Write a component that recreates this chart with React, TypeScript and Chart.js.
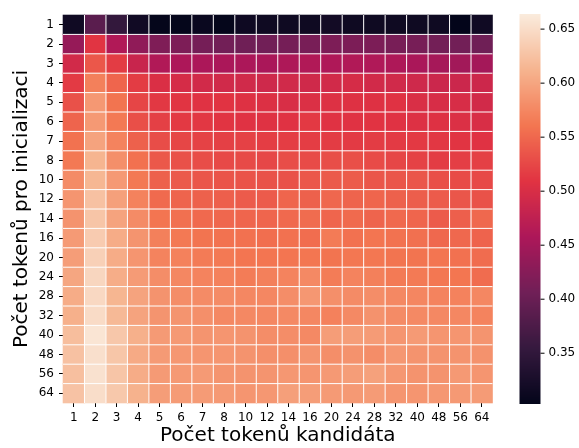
import React, { useEffect, useRef } from "react";
import { Chart, registerables } from "chart.js";
Chart.register(...registerables);

const colLabels = ["1","2","3","4","5","6","7","8","10","12","14","16","20","24","28","32","40","48","56","64"];
const rowLabels = ["1","2","3","4","5","6","7","8","10","12","14","16","20","24","28","32","40","48","56","64"];

const scores: number[][] = [
  [0.316, 0.387, 0.352, 0.317, 0.305, 0.305, 0.310, 0.305, 0.314, 0.315, 0.315, 0.315, 0.319, 0.315, 0.315, 0.315, 0.315, 0.315, 0.303, 0.316],
  [0.438, 0.510, 0.462, 0.433, 0.419, 0.417, 0.410, 0.408, 0.405, 0.407, 0.410, 0.413, 0.417, 0.416, 0.416, 0.413, 0.412, 0.409, 0.408, 0.405],
  [0.493, 0.537, 0.516, 0.484, 0.462, 0.458, 0.457, 0.456, 0.457, 0.455, 0.459, 0.462, 0.460, 0.462, 0.461, 0.459, 0.455, 0.452, 0.448, 0.450],
  [0.515, 0.569, 0.548, 0.516, 0.502, 0.497, 0.493, 0.492, 0.492, 0.490, 0.492, 0.491, 0.493, 0.497, 0.493, 0.492, 0.490, 0.487, 0.487, 0.488],
  [0.532, 0.589, 0.559, 0.523, 0.513, 0.510, 0.508, 0.509, 0.506, 0.504, 0.500, 0.503, 0.505, 0.506, 0.506, 0.508, 0.501, 0.499, 0.499, 0.493],
  [0.547, 0.590, 0.563, 0.531, 0.519, 0.514, 0.512, 0.510, 0.508, 0.507, 0.508, 0.514, 0.508, 0.508, 0.509, 0.508, 0.505, 0.506, 0.503, 0.500],
  [0.558, 0.598, 0.572, 0.545, 0.529, 0.524, 0.521, 0.519, 0.520, 0.517, 0.517, 0.517, 0.516, 0.515, 0.516, 0.515, 0.514, 0.512, 0.510, 0.508],
  [0.563, 0.613, 0.582, 0.557, 0.538, 0.532, 0.529, 0.526, 0.527, 0.525, 0.529, 0.528, 0.530, 0.531, 0.528, 0.524, 0.521, 0.516, 0.518, 0.519],
  [0.578, 0.615, 0.590, 0.563, 0.545, 0.539, 0.536, 0.535, 0.534, 0.533, 0.532, 0.537, 0.539, 0.541, 0.536, 0.536, 0.536, 0.531, 0.528, 0.526],
  [0.587, 0.625, 0.596, 0.571, 0.552, 0.547, 0.545, 0.543, 0.540, 0.540, 0.548, 0.545, 0.549, 0.547, 0.548, 0.545, 0.542, 0.540, 0.536, 0.533],
  [0.585, 0.628, 0.598, 0.578, 0.560, 0.556, 0.551, 0.549, 0.548, 0.548, 0.551, 0.553, 0.548, 0.552, 0.547, 0.551, 0.548, 0.540, 0.543, 0.550],
  [0.591, 0.634, 0.606, 0.586, 0.569, 0.563, 0.559, 0.558, 0.557, 0.555, 0.557, 0.554, 0.565, 0.557, 0.560, 0.558, 0.556, 0.550, 0.550, 0.546],
  [0.593, 0.639, 0.606, 0.587, 0.572, 0.570, 0.565, 0.563, 0.560, 0.560, 0.560, 0.561, 0.559, 0.562, 0.562, 0.559, 0.559, 0.560, 0.557, 0.553],
  [0.601, 0.644, 0.607, 0.592, 0.580, 0.575, 0.572, 0.570, 0.566, 0.569, 0.572, 0.577, 0.566, 0.572, 0.569, 0.564, 0.564, 0.562, 0.561, 0.553],
  [0.606, 0.646, 0.614, 0.598, 0.585, 0.580, 0.578, 0.578, 0.575, 0.575, 0.580, 0.588, 0.582, 0.578, 0.580, 0.576, 0.574, 0.572, 0.571, 0.575],
  [0.609, 0.649, 0.617, 0.598, 0.586, 0.586, 0.582, 0.576, 0.576, 0.575, 0.577, 0.575, 0.570, 0.577, 0.584, 0.578, 0.577, 0.576, 0.575, 0.572],
  [0.622, 0.658, 0.630, 0.609, 0.591, 0.590, 0.586, 0.587, 0.585, 0.580, 0.580, 0.577, 0.593, 0.593, 0.592, 0.587, 0.591, 0.587, 0.587, 0.586],
  [0.625, 0.653, 0.629, 0.604, 0.591, 0.588, 0.587, 0.587, 0.585, 0.582, 0.582, 0.586, 0.581, 0.584, 0.580, 0.588, 0.585, 0.585, 0.585, 0.584],
  [0.623, 0.655, 0.628, 0.606, 0.591, 0.590, 0.591, 0.586, 0.585, 0.586, 0.588, 0.587, 0.590, 0.593, 0.597, 0.588, 0.585, 0.585, 0.590, 0.587],
  [0.626, 0.651, 0.631, 0.611, 0.593, 0.592, 0.592, 0.590, 0.587, 0.588, 0.595, 0.593, 0.591, 0.590, 0.592, 0.587, 0.587, 0.588, 0.590, 0.592],
];

const vmin = 0.303;
const vmax = 0.664;
const cbTicks = [0.35, 0.4, 0.45, 0.5, 0.55, 0.6, 0.65];
const xTitle = "Počet tokenů kandidáta";
const yTitle = "Počet tokenů pro inicializaci";

const FONT = "'DejaVu Sans', sans-serif";

const rocketStops: [number, number, number, number][] = [
  [0, 3, 5, 26],
  [1 / 7, 53, 25, 62],
  [2 / 7, 112, 31, 87],
  [3 / 7, 173, 23, 89],
  [4 / 7, 225, 51, 66],
  [5 / 7, 243, 118, 81],
  [6 / 7, 246, 180, 143],
  [1, 250, 235, 221],
];

function rocket(t: number): string {
  t = Math.max(0, Math.min(1, t));
  for (let i = 1; i < rocketStops.length; i++) {
    const a = rocketStops[i - 1];
    const b = rocketStops[i];
    if (t <= b[0]) {
      const f = (t - a[0]) / (b[0] - a[0]);
      const r = Math.round(a[1] + (b[1] - a[1]) * f);
      const g = Math.round(a[2] + (b[2] - a[2]) * f);
      const bl = Math.round(a[3] + (b[3] - a[3]) * f);
      return `rgb(${r},${g},${bl})`;
    }
  }
  return "rgb(250,235,221)";
}

function colorFor(v: number) {
  return rocket((v - vmin) / (vmax - vmin));
}

const heatmapPlugin = {
  id: "heatmapCells",
  beforeDatasetsDraw(chart: any) {
    const { ctx, chartArea } = chart;
    const meta = chart.getDatasetMeta(0);
    const nc = colLabels.length;
    const nr = rowLabels.length;
    const cw = (chartArea.right - chartArea.left) / nc;
    const ch = (chartArea.bottom - chartArea.top) / nr;
    const raw = chart.data.datasets[0].data;
    ctx.save();
    meta.data.forEach((el: any, k: number) => {
      const v = raw[k].v;
      ctx.fillStyle = colorFor(v);
      ctx.fillRect(el.x - cw / 2 - 0.3, el.y - ch / 2 - 0.3, cw + 0.6, ch + 0.6);
    });
    ctx.strokeStyle = "#ffffff";
    ctx.lineWidth = 1;
    ctx.beginPath();
    for (let j = 1; j < nc; j++) {
      const x = chartArea.left + j * cw;
      ctx.moveTo(x, chartArea.top);
      ctx.lineTo(x, chartArea.bottom);
    }
    for (let i = 1; i < nr; i++) {
      const y = chartArea.top + i * ch;
      ctx.moveTo(chartArea.left, y);
      ctx.lineTo(chartArea.right, y);
    }
    ctx.stroke();

    // colorbar
    const cbLeft = chartArea.right + 27;
    const cbW = 21;
    const top = chartArea.top - 1;
    const bottom = chartArea.bottom + 1;
    const yFor = (v: number) => bottom - ((v - vmin) / (vmax - vmin)) * (bottom - top);
    for (let y = Math.floor(top); y < Math.ceil(bottom); y++) {
      const yc = Math.max(top, Math.min(bottom, y + 0.5));
      const v = vmin + ((bottom - yc) / (bottom - top)) * (vmax - vmin);
      ctx.fillStyle = colorFor(v);
      const y0 = Math.max(top, y);
      const y1 = Math.min(bottom, y + 1);
      ctx.fillRect(cbLeft, y0, cbW, y1 - y0);
    }
    ctx.strokeStyle = "#000";
    ctx.fillStyle = "#000";
    ctx.lineWidth = 1;
    ctx.font = `12px ${FONT}`;
    ctx.textBaseline = "middle";
    ctx.textAlign = "left";
    cbTicks.forEach((t) => {
      const y = yFor(t);
      ctx.beginPath();
      ctx.moveTo(cbLeft + cbW, y);
      ctx.lineTo(cbLeft + cbW + 4, y);
      ctx.stroke();
      ctx.fillText(t.toFixed(2), cbLeft + cbW + 8, y);
    });
    ctx.restore();
  },
};

export default function App() {
  const ref = useRef<HTMLCanvasElement | null>(null);
  useEffect(() => {
    if (!ref.current) return;
    const cells: { x: string; y: string; v: number }[] = [];
    scores.forEach((row, i) =>
      row.forEach((v, j) => cells.push({ x: colLabels[j], y: rowLabels[i], v }))
    );
    const axisCommon = {
      type: "category" as const,
      offset: true,
      border: { display: false },
      grid: {
        display: true,
        drawOnChartArea: false,
        drawTicks: true,
        tickLength: 4,
        color: "#000",
        lineWidth: 1,
        offset: false,
      },
    };
    const chart = new Chart(ref.current, {
      type: "scatter",
      data: {
        datasets: [
          {
            data: cells as any,
            pointRadius: 0,
            pointHoverRadius: 0,
            showLine: false,
          },
        ],
      },
      options: {
        responsive: false,
        animation: false,
        devicePixelRatio: 1,
        events: [],
        layout: { padding: { top: 15, right: 86.5, left: 0, bottom: 0 } },
        plugins: { legend: { display: false }, tooltip: { enabled: false } },
        scales: {
          x: {
            ...axisCommon,
            position: "bottom",
            labels: colLabels,
            ticks: {
              color: "#000",
              font: { family: FONT, size: 12 },
              maxRotation: 0,
              autoSkip: false,
              padding: 4,
            },
            title: {
              display: true,
              text: xTitle,
              color: "#000",
              font: { family: FONT, size: 20 },
              padding: { top: -3, bottom: 0 },
            },
            afterFit: (s: any) => {
              s.height = 45;
            },
          },
          y: {
            ...axisCommon,
            position: "left",
            labels: rowLabels,
            ticks: {
              color: "#000",
              font: { family: FONT, size: 12 },
              autoSkip: false,
              padding: 5,
            },
            title: {
              display: true,
              text: yTitle,
              color: "#000",
              font: { family: FONT, size: 20 },
              padding: { top: 9.5, bottom: 0 },
            },
            afterFit: (s: any) => {
              s.width = 63;
            },
          },
        },
      } as any,
      plugins: [heatmapPlugin],
    });
    return () => chart.destroy();
  }, []);
  return (
    <div style={{ position: "fixed", left: 0, top: 0, width: 579, height: 448, background: "#fff" }}>
      <canvas ref={ref} width={579} height={448} style={{ width: 579, height: 448 }} />
    </div>
  );
}
